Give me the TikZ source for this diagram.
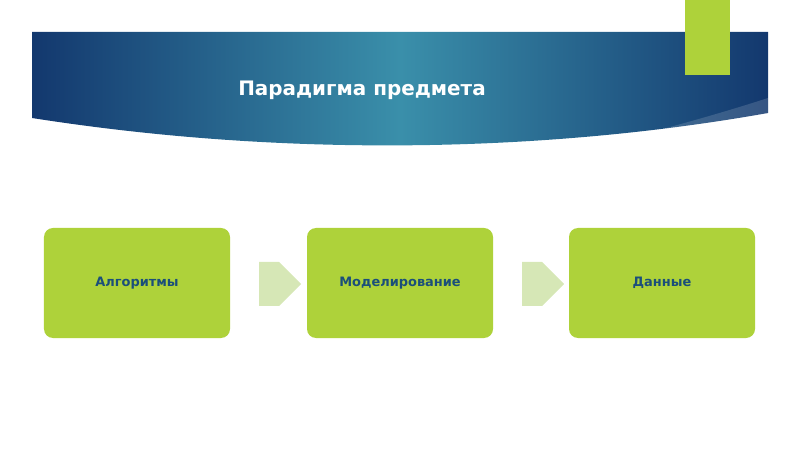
\documentclass[tikz,border=0pt]{standalone}
\usepackage{fontspec}
\setmainfont{DejaVu Sans}
\usetikzlibrary{shapes.arrows,shadows}

\definecolor{navy}{HTML}{13386E}
\definecolor{teal}{HTML}{3A8FAA}
\definecolor{lime}{HTML}{AED23A}
\definecolor{palelime}{HTML}{D6E7B6}
\definecolor{textblue}{HTML}{1B4F7A}

\tikzset{
  stage/.style={fill=lime, rounded corners=9bp, minimum width=186bp, minimum height=110bp,
                font=\bfseries\fontsize{13}{15}\selectfont, text=textblue},
  flow/.style={single arrow, fill=palelime, minimum width=44bp, single arrow head extend=0bp,
               single arrow tip angle=90, minimum height=42bp, inner sep=0pt}
}

\begin{document}
\begin{tikzpicture}[x=1bp,y=-1bp]
  \useasboundingbox (0,0) rectangle (800,450);
%  banner
  \shade[left color=navy, right color=navy, middle color=teal]
    (32,32) -- (768,32) -- (768,113) .. controls (560,150) and (300,160) .. (32,118) -- cycle;
  \fill[white, opacity=0.15] (768,98) .. controls (700,120) and (640,135) .. (590,148)
    .. controls (660,140) and (720,125) .. (768,113) -- cycle;
  \fill[lime] (685,0) rectangle (730,75);
  \node[text=white, font=\bfseries\fontsize{20}{24}\selectfont] (title) at (362,90) {Парадигма предмета};

%  stages
  \node[stage] (algo) at (137,283) {Алгоритмы};
  \node[stage] (model) at (400,283) {Моделирование};
  \node[stage] (data) at (662,283) {Данные};

  \node[flow] (a1) at (269,284) {};
  \node[flow] (a2) at (532,284) {};
\end{tikzpicture}
\end{document}
